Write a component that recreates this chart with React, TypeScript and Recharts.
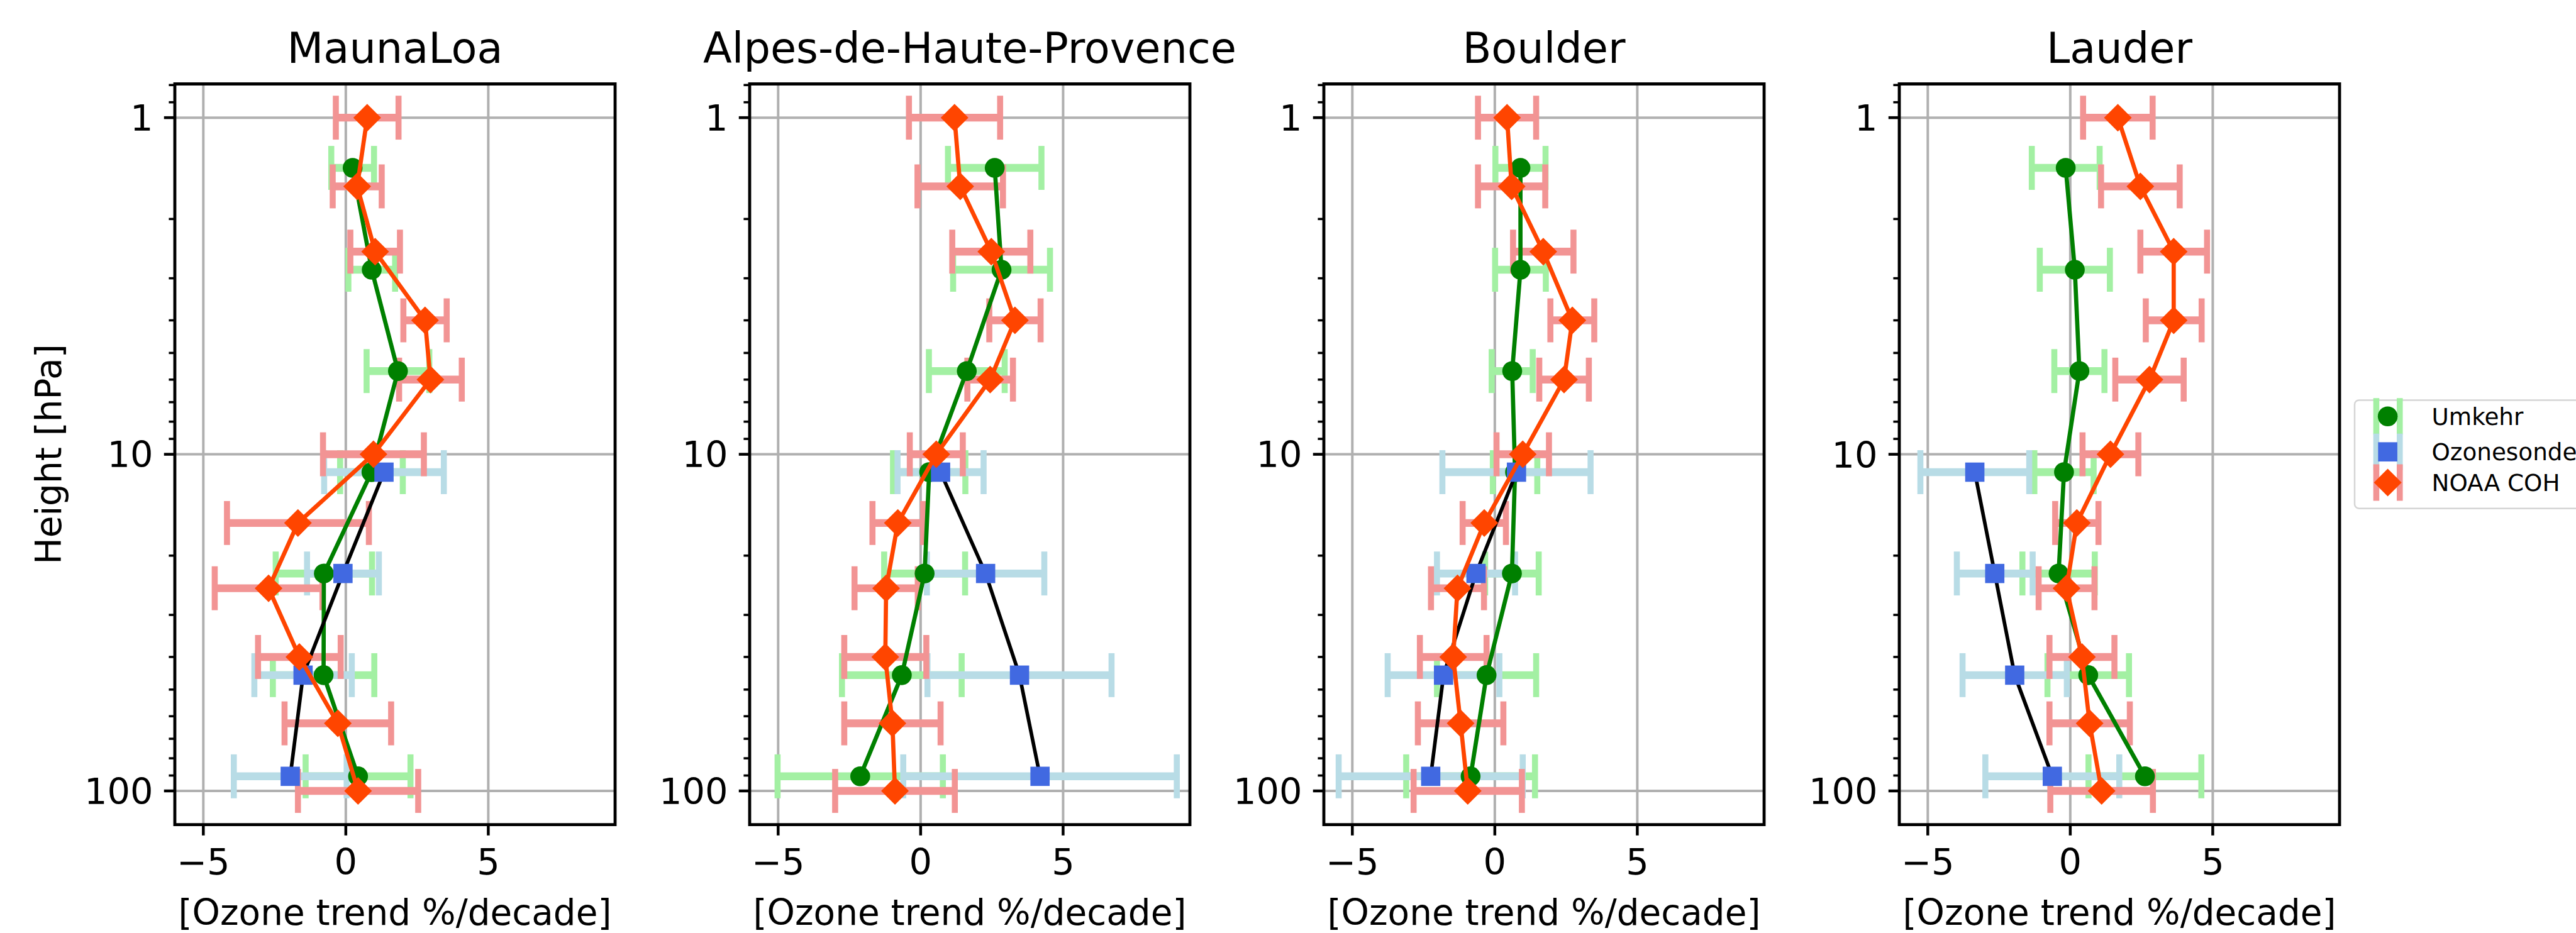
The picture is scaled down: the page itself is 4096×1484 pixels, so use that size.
import { ScatterChart, Scatter, XAxis, YAxis, ErrorBar, CartesianGrid, ReferenceArea, Legend } from 'recharts'

const S = 0.957 // reference px -> window px
const FONT = '"DejaVu Sans", Verdana, sans-serif'

const stations = ['MaunaLoa', 'Alpes-de-Haute-Provence', 'Boulder', 'Lauder']

// pressure levels, hPa
const umkehrLevels = [1.41, 2.83, 5.66, 11.3, 22.6, 45.3, 90.5]
const sondeLevels = [11.3, 22.6, 45.3, 90.5]
const cohLevels = [1, 1.6, 2.5, 4, 6, 10, 16, 25, 40, 63, 100]

// trend (%/decade) and error, one row per station
const umkehrTrend = [
  [0.24, 0.91, 1.83, 0.9, -0.77, -0.78, 0.43],
  [2.6, 2.84, 1.62, 0.3, 0.14, -0.66, -2.12],
  [0.9, 0.9, 0.61, 0.71, 0.6, -0.29, -0.85],
  [-0.16, 0.16, 0.32, -0.22, -0.41, 0.63, 2.62],
]
const umkehrErr = [
  [0.75, 0.82, 1.1, 1.1, 1.69, 1.78, 1.84],
  [1.64, 1.7, 1.33, 1.27, 1.42, 2.1, 2.9],
  [0.88, 0.89, 0.72, 0.78, 0.94, 1.74, 2.26],
  [1.19, 1.23, 0.88, 1.04, 1.27, 1.43, 1.98],
]
const sondeTrend = [
  [1.34, -0.1, -1.5, -1.95],
  [0.7, 2.28, 3.47, 4.19],
  [0.76, -0.66, -1.8, -2.25],
  [-3.35, -2.65, -1.95, -0.63],
]
const sondeErr = [
  [2.1, 1.26, 1.71, 1.98],
  [1.51, 2.06, 3.23, 4.8],
  [2.6, 1.37, 1.96, 3.23],
  [1.91, 1.33, 1.83, 2.35],
]
const cohTrend = [
  [0.75, 0.4, 1.03, 2.78, 2.97, 0.97, -1.68, -2.71, -1.63, -0.28, 0.43],
  [1.19, 1.39, 2.48, 3.31, 2.44, 0.55, -0.8, -1.21, -1.24, -0.99, -0.9],
  [0.43, 0.59, 1.7, 2.72, 2.43, 0.98, -0.37, -1.31, -1.46, -1.2, -0.95],
  [1.67, 2.46, 3.63, 3.63, 2.78, 1.41, 0.23, -0.13, 0.41, 0.68, 1.1],
]
const cohErr = [
  [1.1, 0.86, 0.87, 0.76, 1.1, 1.77, 2.49, 1.89, 1.45, 1.87, 2.11],
  [1.6, 1.5, 1.37, 0.9, 0.8, 0.93, 0.89, 1.11, 1.44, 1.69, 2.1],
  [1.02, 1.18, 1.06, 0.77, 0.87, 0.92, 0.76, 0.93, 1.17, 1.5, 1.9],
  [1.22, 1.38, 1.17, 0.98, 1.2, 0.98, 0.76, 0.98, 1.14, 1.41, 1.8],
]

const xTicks = [-5, 0, 5]
const yMajor = [1, 10, 100]
const yMinor = [0.8, 0.9, 2, 3, 4, 5, 6, 7, 8, 9, 20, 30, 40, 50, 60, 70, 80, 90]
const X_DOMAIN: [number, number] = [-6, 9.45]
const Y_DOMAIN: [number, number] = [0.794, 125.9]

const series = [
  { name: 'Umkehr', levels: umkehrLevels, trend: umkehrTrend, err: umkehrErr, kind: 'circle', marker: '#008000', line: '#008000', bar: '#a3f0a3' },
  { name: 'Ozonesonde', levels: sondeLevels, trend: sondeTrend, err: sondeErr, kind: 'square', marker: '#4169e1', line: '#000000', bar: '#b8dce6' },
  { name: 'NOAA COH', levels: cohLevels, trend: cohTrend, err: cohErr, kind: 'diamond', marker: '#ff4500', line: '#ff4500', bar: '#f29494' },
]

// layout, measured on the reference and scaled
const H = 1484
const PLOT_TOP = 139.5 * S
const PLOT_BOTTOM = 1370.5 * S
const PLOT_W = 731.5 * S
const Y_AXIS_W = 270
const X_AXIS_H = H - PLOT_BOTTOM
const plotLefts = [290, 1246, 2200, 3156].map(v => v * S)
const TICK_FS = 60 * S
const LABEL_FS = 59 * S
const TITLE_FS = 70 * S

function Marker({ kind, cx, cy, color }: { kind: string; cx: number; cy: number; color: string }) {
  if (kind === 'circle') return <circle cx={cx} cy={cy} r={16.5 * S} fill={color} />
  if (kind === 'square') return <rect x={cx - 16 * S} y={cy - 16 * S} width={32 * S} height={32 * S} fill={color} />
  const d = 23 * S
  return <polygon points={`${cx},${cy - d} ${cx + d},${cy} ${cx},${cy + d} ${cx - d},${cy}`} fill={color} />
}

const fmtX = (v: number) => (v < 0 ? '\u2212' + Math.abs(v) : String(v))

function XTick(props: any) {
  const { x, payload } = props
  return (
    <g>
      <line x1={x} x2={x} y1={PLOT_BOTTOM} y2={PLOT_BOTTOM + 18 * S} stroke="#000" strokeWidth={4.5} />
      <text x={x} y={PLOT_BOTTOM + 83 * S} textAnchor="middle" fontSize={TICK_FS} fontFamily={FONT} fill="#000">
        {fmtX(payload.value)}
      </text>
    </g>
  )
}

function YTick(props: any) {
  const { y, payload } = props
  const major = yMajor.includes(payload.value)
  const len = (major ? 18 : 10) * S
  return (
    <g>
      <line x1={Y_AXIS_W - len} x2={Y_AXIS_W} y1={y} y2={y} stroke="#000" strokeWidth={major ? 4.5 : 3.6} />
      {major && (
        <text x={Y_AXIS_W - 36 * S} y={y + 0.3645 * TICK_FS} textAnchor="end" fontSize={TICK_FS} fontFamily={FONT} fill="#000">
          {payload.value}
        </text>
      )}
    </g>
  )
}

function LegendBox() {
  const ox = 3912 * S - 10
  const oy = 600
  const rows = [692, 751, 802].map(v => v * S - oy)
  const mx = 3967 * S - ox
  const capL = 3948 * S - ox
  const capR = 3987 * S - ox
  return (
    <svg width={4096 - ox} height={240} style={{ display: 'block' }}>
      <rect x={10} y={665 * S - oy} width={420} height={180 * S} rx={7} fill="#fff" fillOpacity={0.8} stroke="#d5d5d5" strokeWidth={2.5} />
      {series.map((s, i) => (
        <g key={s.name}>
          <line x1={capL} x2={capR} y1={rows[i]} y2={rows[i]} stroke={s.bar} strokeWidth={13 * S} />
          <line x1={capL} x2={capL} y1={rows[i] - 29} y2={rows[i] + 29} stroke={s.bar} strokeWidth={10 * S} />
          <line x1={capR} x2={capR} y1={rows[i] - 29} y2={rows[i] + 29} stroke={s.bar} strokeWidth={10 * S} />
          <Marker kind={s.kind} cx={mx} cy={rows[i]} color={s.marker} />
          <text x={4040 * S - ox} y={rows[i] + 14 * S} fontSize={39 * S} fontFamily={FONT} fill="#000">
            {s.name}
          </text>
        </g>
      ))}
    </svg>
  )
}

function Panel({ idx }: { idx: number }) {
  const left = plotLefts[idx] - Y_AXIS_W
  const last = idx === stations.length - 1
  // extra room on the right so long titles are not clipped
  const width = last ? 4096 - left : Y_AXIS_W + PLOT_W + 140
  const mr = width - Y_AXIS_W - PLOT_W
  const cx = Y_AXIS_W + PLOT_W / 2

  return (
    <div style={{ position: 'absolute', left, top: 0 }}>
      <ScatterChart width={width} height={H} margin={{ top: PLOT_TOP, right: mr, bottom: 0, left: 0 }}>
        <CartesianGrid horizontalValues={yMajor} verticalValues={xTicks} stroke="#b0b0b0" strokeWidth={4} />
        <XAxis
          type="number"
          dataKey="x"
          domain={X_DOMAIN}
          allowDataOverflow
          ticks={xTicks}
          interval={0}
          height={X_AXIS_H}
          axisLine={false}
          tickLine={false}
          tickSize={0}
          tickMargin={0}
          tick={(p: any) => <XTick {...p} />}
          label={() => (
            <text x={cx} y={1537 * S} textAnchor="middle" fontSize={LABEL_FS} fontFamily={FONT} fill="#000">
              [Ozone trend %/decade]
            </text>
          )}
        />
        <YAxis
          type="number"
          dataKey="p"
          scale="log"
          domain={Y_DOMAIN}
          reversed
          allowDataOverflow
          ticks={[...yMinor, ...yMajor].sort((a, b) => a - b)}
          interval={0}
          width={Y_AXIS_W}
          axisLine={false}
          tickLine={false}
          tickSize={0}
          tickMargin={0}
          tick={(p: any) => <YTick {...p} />}
          label={
            idx === 0
              ? () => {
                  const lx = 101 * S - left
                  const ly = (PLOT_TOP + PLOT_BOTTOM) / 2
                  return (
                    <text x={lx} y={ly} transform={`rotate(-90 ${lx} ${ly})`} textAnchor="middle" fontSize={LABEL_FS} fontFamily={FONT} fill="#000">
                      Height [hPa]
                    </text>
                  )
                }
              : undefined
          }
        />
        {series.map(s => {
          const rows = s.levels.map((p, i) => ({ p, x: s.trend[idx][i], e: s.err[idx][i] }))
          return [
            <Scatter key={s.name + '-err'} data={rows} shape={() => <g />} legendType="none" isAnimationActive={false}>
              <ErrorBar dataKey="e" direction="x" width={0} stroke={s.bar} strokeWidth={13 * S} isAnimationActive={false} />
              <ErrorBar dataKey="e" direction="x" width={36.5 * S} stroke={s.bar} strokeWidth={10 * S} isAnimationActive={false} />
            </Scatter>,
            <Scatter
              key={s.name}
              name={s.name}
              data={rows}
              line={{ stroke: s.line, strokeWidth: s.kind === 'square' ? 6 * S : 7 * S }}
              shape={(p: any) => <Marker kind={s.kind} cx={p.cx} cy={p.cy} color={s.marker} />}
              isAnimationActive={false}
            />,
          ]
        })}
        <ReferenceArea
          x1={X_DOMAIN[0]}
          x2={X_DOMAIN[1]}
          y1={Y_DOMAIN[0]}
          y2={Y_DOMAIN[1]}
          fill="none"
          stroke="#000"
          strokeWidth={4.8}
          label={() => (
            <text x={cx} y={105 * S} textAnchor="middle" fontSize={TITLE_FS} fontFamily={FONT} fill="#000">
              {stations[idx]}
            </text>
          )}
        />
        {last && (
          <Legend
            layout="horizontal"
            verticalAlign="middle"
            align="center"
            content={() => <LegendBox />}
            wrapperStyle={{ left: 3912 * S - 10 - left, top: 600, width: 4096 - (3912 * S - 10), height: 240 }}
          />
        )}
      </ScatterChart>
    </div>
  )
}

export default function App() {
  return (
    <div style={{ position: 'absolute', left: 0, top: 0, width: 4096, height: H, overflow: 'hidden', background: '#fff' }}>
      {stations.map((_, i) => (
        <Panel key={i} idx={i} />
      ))}
    </div>
  )
}
